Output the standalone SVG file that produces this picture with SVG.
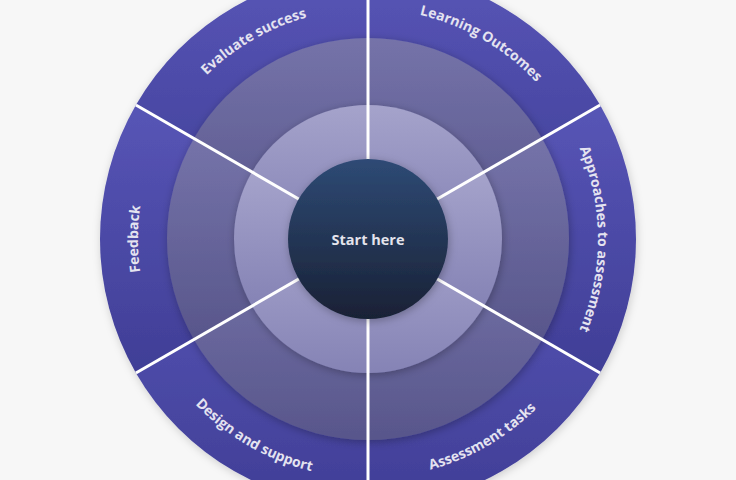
<svg xmlns="http://www.w3.org/2000/svg" width="736" height="480" viewBox="0 0 736 480">
  <defs>
    <linearGradient id="gOuter" x1="0" y1="0" x2="0" y2="1">
      <stop offset="0" stop-color="#5755b6"/>
      <stop offset="1" stop-color="#403e96"/>
    </linearGradient>
    <linearGradient id="gMiddle" x1="0" y1="0" x2="0" y2="1">
      <stop offset="0" stop-color="#7573a9"/>
      <stop offset="1" stop-color="#58568b"/>
    </linearGradient>
    <linearGradient id="gInner" x1="0" y1="0" x2="0" y2="1">
      <stop offset="0" stop-color="#a5a3cb"/>
      <stop offset="1" stop-color="#8583b5"/>
    </linearGradient>
    <linearGradient id="gCenter" x1="0" y1="0" x2="0" y2="1">
      <stop offset="0" stop-color="#2e4a75"/>
      <stop offset="1" stop-color="#192135"/>
    </linearGradient>
    <filter id="shadow" x="-20%" y="-20%" width="140%" height="140%">
      <feDropShadow dx="1" dy="2" stdDeviation="4" flood-color="#000" flood-opacity="0.28"/>
    </filter>
    <filter id="shadowSoft" x="-20%" y="-20%" width="140%" height="140%">
      <feDropShadow dx="1" dy="2" stdDeviation="4" flood-color="#000" flood-opacity="0.18"/>
    </filter>
    <path id="pLearning" d="M368,9 A230,230 0 0 1 567.19,124"/>
    <path id="pApproaches" d="M567.19,124 A230,230 0 0 1 567.19,354"/>
    <path id="pTasks" d="M368,478 A239,239 0 0 0 574.98,358.5"/>
    <path id="pDesign" d="M161.02,358.5 A239,239 0 0 0 368,478"/>
    <path id="pFeedback" d="M168.81,354 A230,230 0 0 1 168.81,124"/>
    <path id="pEvaluate" d="M168.81,124 A230,230 0 0 1 368,9"/>
  </defs>
  <style>
    .outer { fill: url(#gOuter); }
    .middle { fill: url(#gMiddle); }
    .inner { fill: url(#gInner); }
    .divider { stroke: #ffffff; stroke-width: 3; stroke-linecap: butt; }
    .label { font-family: "Open Sans", "Noto Sans", "Liberation Sans", sans-serif; font-weight: 700; font-size: 14px; fill: #e4e3f0; }
    .center-label { font-family: "Open Sans", "Noto Sans", "Liberation Sans", sans-serif; font-weight: 700; font-size: 14.5px; fill: #e4e4ec; }
  </style>
  <rect width="736" height="480" fill="#f7f7f7"/>

  <g id="ring-outer" filter="url(#shadowSoft)">
    <g id="node-learning-outcomes">
      <path class="outer" d="M368,239 L368,-29 A268,268 0 0 1 600.095,105 Z"/>
    </g>
    <g id="node-approaches">
      <path class="outer" d="M368,239 L600.095,105 A268,268 0 0 1 600.095,373 Z"/>
    </g>
    <g id="node-assessment-tasks">
      <path class="outer" d="M368,239 L600.095,373 A268,268 0 0 1 368,507 Z"/>
    </g>
    <g id="node-design-support">
      <path class="outer" d="M368,239 L368,507 A268,268 0 0 1 135.905,373 Z"/>
    </g>
    <g id="node-feedback">
      <path class="outer" d="M368,239 L135.905,373 A268,268 0 0 1 135.905,105 Z"/>
    </g>
    <g id="node-evaluate-success">
      <path class="outer" d="M368,239 L135.905,105 A268,268 0 0 1 368,-29 Z"/>
    </g>
  </g>

  <g id="labels">
    <text class="label"><textPath href="#pLearning" startOffset="50%" text-anchor="middle">Learning Outcomes</textPath></text>
    <text class="label"><textPath href="#pApproaches" startOffset="50%" text-anchor="middle">Approaches to assessment</textPath></text>
    <text class="label"><textPath href="#pTasks" startOffset="50%" text-anchor="middle">Assessment tasks</textPath></text>
    <text class="label"><textPath href="#pDesign" startOffset="50%" text-anchor="middle">Design and support</textPath></text>
    <text class="label"><textPath href="#pFeedback" startOffset="50%" text-anchor="middle">Feedback</textPath></text>
    <text class="label"><textPath href="#pEvaluate" startOffset="50%" text-anchor="middle">Evaluate success</textPath></text>
  </g>

  <g id="ring-middle" filter="url(#shadow)">
    <path class="middle" d="M368,239 L368,38 A201,201 0 0 1 542.071,138.5 Z"/>
    <path class="middle" d="M368,239 L542.071,138.5 A201,201 0 0 1 542.071,339.5 Z"/>
    <path class="middle" d="M368,239 L542.071,339.5 A201,201 0 0 1 368,440 Z"/>
    <path class="middle" d="M368,239 L368,440 A201,201 0 0 1 193.929,339.5 Z"/>
    <path class="middle" d="M368,239 L193.929,339.5 A201,201 0 0 1 193.929,138.5 Z"/>
    <path class="middle" d="M368,239 L193.929,138.5 A201,201 0 0 1 368,38 Z"/>
  </g>

  <g id="ring-inner" filter="url(#shadow)">
    <path class="inner" d="M368,239 L368,105 A134,134 0 0 1 484.047,172 Z"/>
    <path class="inner" d="M368,239 L484.047,172 A134,134 0 0 1 484.047,306 Z"/>
    <path class="inner" d="M368,239 L484.047,306 A134,134 0 0 1 368,373 Z"/>
    <path class="inner" d="M368,239 L368,373 A134,134 0 0 1 251.953,306 Z"/>
    <path class="inner" d="M368,239 L251.953,306 A134,134 0 0 1 251.953,172 Z"/>
    <path class="inner" d="M368,239 L251.953,172 A134,134 0 0 1 368,105 Z"/>
  </g>

  <g id="connectors">
    <line class="divider" x1="368" y1="239" x2="368" y2="-29"/>
    <line class="divider" x1="368" y1="239" x2="600.095" y2="105"/>
    <line class="divider" x1="368" y1="239" x2="600.095" y2="373"/>
    <line class="divider" x1="368" y1="239" x2="368" y2="507"/>
    <line class="divider" x1="368" y1="239" x2="135.905" y2="373"/>
    <line class="divider" x1="368" y1="239" x2="135.905" y2="105"/>
  </g>

  <g id="node-start-here">
    <circle cx="368" cy="239" r="80" fill="url(#gCenter)" filter="url(#shadow)"/>
    <text class="center-label" x="368" y="244.5" text-anchor="middle">Start here</text>
  </g>
</svg>
